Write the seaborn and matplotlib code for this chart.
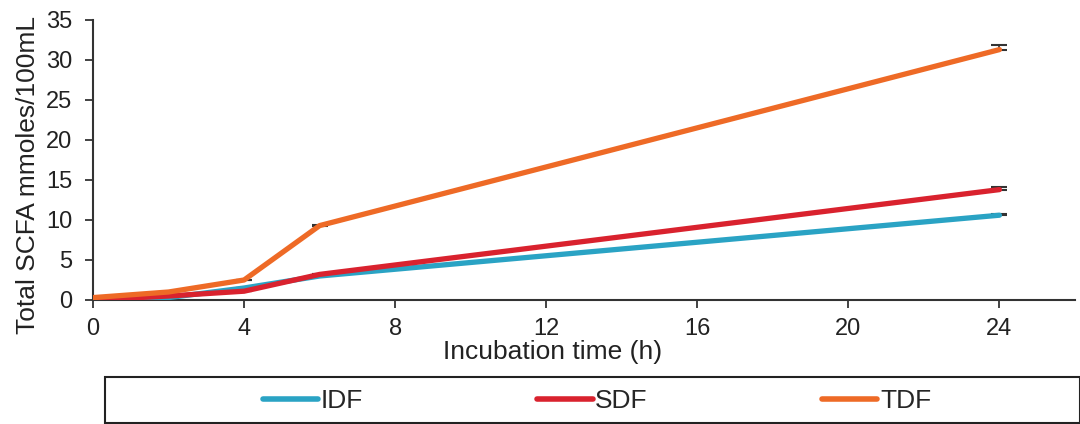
import matplotlib
matplotlib.use("Agg")
import matplotlib.pyplot as plt
from matplotlib.patches import Rectangle
import seaborn as sns
import pandas as pd

times = [0, 2, 4, 6, 24]
idf = [0.0, 0.3, 1.5, 3.0, 10.6]
sdf = [0.0, 0.5, 1.1, 3.2, 13.8]
tdf = [0.3, 1.0, 2.5, 9.3, 31.3]
idf_err = [0.0, 0.0, 0.0, 0.0, 0.15]
sdf_err = [0.0, 0.0, 0.0, 0.05, 0.3]
tdf_err = [0.0, 0.0, 0.0, 0.1, 0.6]
series_names = ["IDF", "SDF", "TDF"]
colors = {"IDF": "#2AA3C4", "SDF": "#D9222E", "TDF": "#EE6A26"}
x_ticks = [0, 4, 8, 12, 16, 20, 24]
y_ticks = [0, 5, 10, 15, 20, 25, 30, 35]

rows = []
for name, vals in zip(series_names, [idf, sdf, tdf]):
    for t, v in zip(times, vals):
        rows.append({"time": t, "value": v, "fiber": name})
df = pd.DataFrame(rows)

sns.set_theme(style="white")
plt.rcParams["font.family"] = ["Liberation Sans", "DejaVu Sans"]

fig = plt.figure(figsize=(10.8, 4.24), dpi=100)
ax = fig.add_axes([93/1080, 1-300/424, (1075-93)/1080, (300-20)/424])

for name, vals, errs in zip(series_names, [idf, sdf, tdf], [idf_err, sdf_err, tdf_err]):
    ax.errorbar(times, vals, yerr=[[0]*len(errs), errs], fmt="none", ecolor="#333333",
                elinewidth=1.2, capsize=6, capthick=1.5, zorder=1)

sns.lineplot(data=df, x="time", y="value", hue="fiber", palette=colors,
             hue_order=series_names, linewidth=3.8, ax=ax, legend=True,
             solid_capstyle="round", zorder=3)

ax.set_xlim(0, 26)
ax.set_ylim(0, 35)
ax.set_xticks(x_ticks)
ax.set_yticks(y_ticks)
ax.tick_params(axis="both", labelsize=17, colors="#222222", direction="out",
               length=6, width=1.2, bottom=True, left=True)
ax.tick_params(axis="x", pad=7)
ax.tick_params(axis="y", pad=9)
for s in ["top", "right"]:
    ax.spines[s].set_visible(False)
for s in ["left", "bottom"]:
    ax.spines[s].set_color("#333333")
    ax.spines[s].set_linewidth(1.5)
ax.set_xlabel("Incubation time (h)", fontsize=19, color="#222222")
ax.xaxis.set_label_coords(0.4675, -(352-300)/280)
ax.xaxis.label.set_va("center")
ax.set_ylabel("Total SCFA mmoles/100mL", fontsize=19, color="#222222")
ax.yaxis.set_label_coords(-(93-28)/982, (300-175)/280)
ax.yaxis.label.set_va("center")

handles, labels = ax.get_legend_handles_labels()
ax.get_legend().remove()
for h in handles:
    h.set_linewidth(4)
    h.set_solid_capstyle("round")
fig.legend(handles, labels, loc="center", bbox_to_anchor=(597/1080, 1-401/424),
           ncol=3, frameon=False, fontsize=19, handlelength=2.1,
           handletextpad=0.1, columnspacing=6.6)
fig.patches.append(Rectangle((105/1080, 1-423/424), (1080-105)/1080, 46/424,
                             transform=fig.transFigure, fill=False,
                             edgecolor="#222222", linewidth=1.5))

fig.savefig("out.png", dpi=100)
